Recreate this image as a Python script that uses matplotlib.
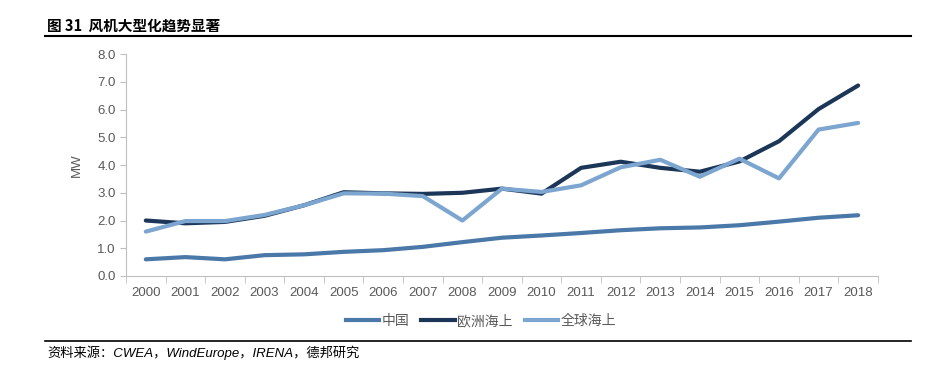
import numpy as np
import matplotlib.pyplot as plt
from matplotlib.lines import Line2D

plt.rcParams['font.family'] = ['Liberation Sans', 'Noto Sans CJK SC', 'DejaVu Sans']

years = [str(y) for y in range(2000, 2019)]
china = [0.60, 0.68, 0.60, 0.75, 0.78, 0.87, 0.93, 1.05, 1.22, 1.38,
         1.46, 1.55, 1.65, 1.72, 1.75, 1.83, 1.96, 2.10, 2.19]
europe = [2.00, 1.90, 1.95, 2.17, 2.55, 3.02, 2.98, 2.96, 3.00, 3.15,
          2.97, 3.90, 4.12, 3.90, 3.76, 4.13, 4.86, 6.02, 6.87]
world = [1.60, 1.98, 1.98, 2.20, 2.55, 2.98, 2.97, 2.88, 2.00, 3.15,
         3.03, 3.27, 3.92, 4.19, 3.58, 4.23, 3.52, 5.28, 5.52]
series_names = ['中国', '欧洲海上', '全球海上']
colors = ['#4a78a8', '#1c3657', '#7ca5d0']

fig = plt.figure(figsize=(9.3, 3.66), dpi=100)
ax = fig.add_axes([0.1355, 0.246, 0.8085, 0.606])

x = np.arange(len(years))
for vals, name, c in zip([china, europe, world], series_names, colors):
    ax.plot(x, vals, color=c, lw=3, label=name, solid_capstyle='round')

ax.set_xlim(-0.5, len(years) - 0.5)
ax.set_ylim(0, 8)
ax.set_yticks(np.arange(0, 8.1, 1.0))
ax.set_yticklabels([f'{v:.1f}' for v in np.arange(0, 8.1, 1.0)])
ax.set_xticks(x)
ax.set_xticklabels(years)
ax.set_xticks(np.arange(-0.5, len(years), 1.0), minor=True)
ax.tick_params(axis='x', which='major', length=0, pad=8)
ax.tick_params(axis='x', which='minor', length=5, color='#bfbfbf')
ax.tick_params(axis='y', length=4, color='#bfbfbf')
ax.tick_params(labelsize=9.5, labelcolor='#595959')
for s in ['top', 'right']:
    ax.spines[s].set_visible(False)
for s in ['left', 'bottom']:
    ax.spines[s].set_color('#bfbfbf')
ax.set_ylabel('MW', color='#595959', fontsize=9.5, labelpad=10)

handles = [Line2D([], [], color=c, lw=3) for c in colors]
leg = fig.legend(handles, series_names, loc='center', bbox_to_anchor=(0.517, 0.123),
                 ncol=3, frameon=False, handlelength=2.4,
                 handletextpad=0.15, columnspacing=0.9,
                 prop={'family': ['Noto Sans CJK SC'], 'size': 10})
for t in leg.get_texts():
    t.set_color('#595959')

fig.text(0.051, 0.93, '图 31  风机大型化趋势显著', fontsize=10.5, fontweight='bold',
         family=['Noto Sans CJK SC', 'DejaVu Sans'], va='center')
fig.add_artist(Line2D([0.048, 0.98], [0.903, 0.903], color='black', lw=1.5))
fig.add_artist(Line2D([0.048, 0.98], [0.068, 0.068], color='black', lw=1.2))
fig.text(0.051, 0.035, '资料来源：CWEA，WindEurope，IRENA，德邦研究', fontsize=9.5,
         style='italic', family=['Liberation Sans', 'Noto Sans CJK SC', 'DejaVu Sans'],
         va='center')

fig.savefig('out.png', dpi=100)
